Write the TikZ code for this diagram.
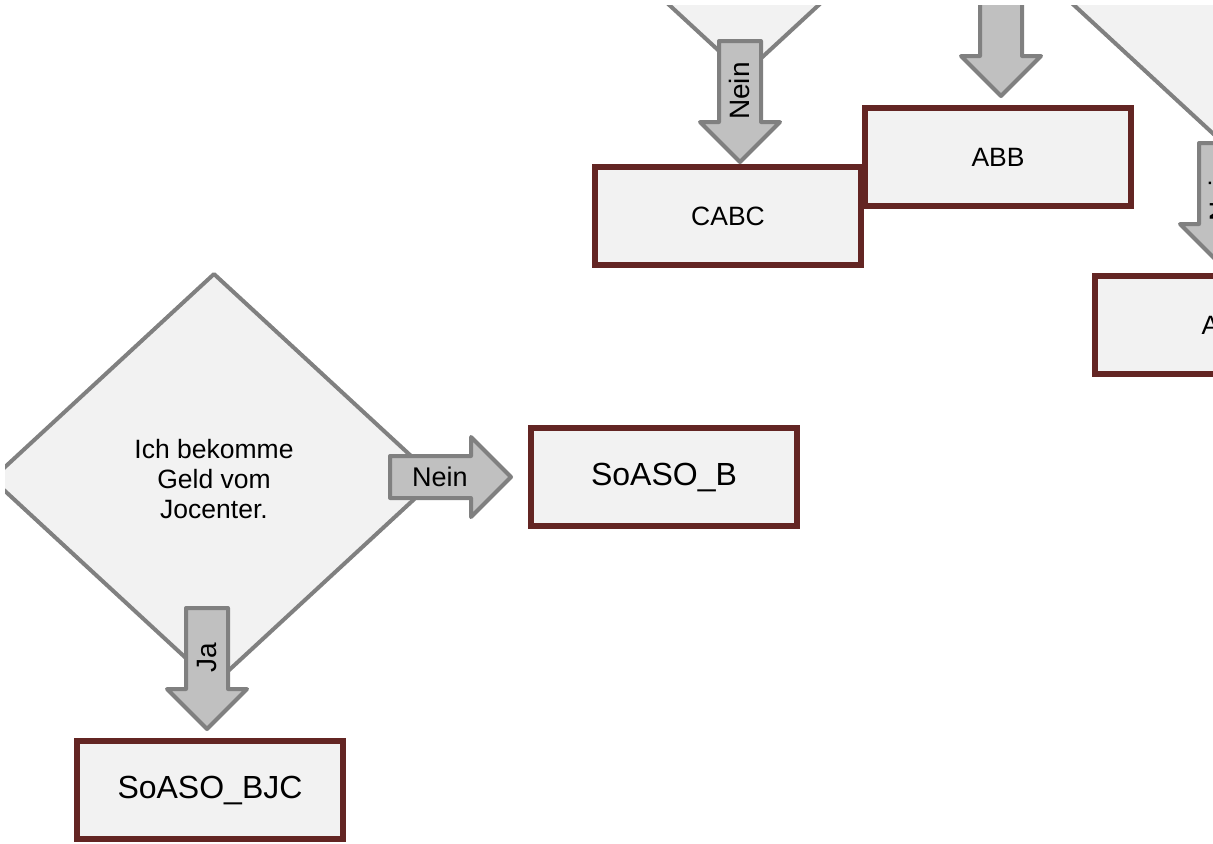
\documentclass[tikz,border=0pt]{standalone}
\usepackage{fontspec}
\setmainfont{Liberation Sans}
\usetikzlibrary{shapes.geometric, shapes.arrows, positioning}
\definecolor{boxfill}{RGB}{242,242,242}
\definecolor{boxborder}{RGB}{99,37,35}
\definecolor{arrowfill}{RGB}{192,192,192}
\definecolor{arrowborder}{RGB}{128,128,128}
\tikzset{
    resultbox/.style={rectangle, draw=boxborder, fill=boxfill, line width=3pt, minimum width=133pt, minimum height=49pt, inner sep=0pt, outer sep=0pt, align=center, font=\fontsize{13.25pt}{16pt}\selectfont},
    decision/.style={diamond, draw=arrowborder, fill=boxfill, line width=2pt, line join=round, minimum width=222pt, minimum height=205pt, inner sep=0pt, outer sep=0pt, align=center, font=\fontsize{13.25pt}{14.8pt}\selectfont},
    blockarrow/.style={single arrow, draw=arrowborder, fill=arrowfill, line width=2pt, line join=round, minimum height=60.5pt, single arrow head extend=9.5pt, inner xsep=2pt, inner ysep=0pt, outer sep=0pt, text height=14.15pt, text depth=4.85pt, font=\fontsize{13.5pt}{15pt}\selectfont},
    downarrow/.style={blockarrow, rotate=90, shape border rotate=180, anchor=tip, font=\fontsize{14pt}{16pt}\selectfont},
}

\begin{document}
\begin{tikzpicture}[x=0.5pt, y=-0.5pt,
    bigtext/.style={font=\fontsize{16pt}{19pt}\selectfont}
]
\useasboundingbox (0,0) rectangle (1213,843);
\clip (5,5) rectangle (1213,843);

% Decisions (top ones only partly in view)
\node[decision] (q-jobcenter) at (214,479) {Ich bekomme\\Geld vom\\Jocenter.};
\node[decision] (q-topleft) at (744,-131) {};
\node[decision] (q-topright) at (1220,-65) {};

% Result boxes
\node[resultbox, bigtext, below=28.5pt of q-jobcenter, xshift=-2pt] (bjc) {SoASO\_BJC};
\node[resultbox, bigtext, right=47.5pt of q-jobcenter, yshift=1pt] (soaso-b) {SoASO\_B};
\node[resultbox] (cabc) at (728,216) {CABC};
\node[resultbox] (abb) at (998,157) {ABB};
\node[resultbox] (abox) at (1228,325) {A\phantom{BB}};

% Block arrows
\node[downarrow] (ja-arrow) at ([xshift=-1.5pt, yshift=6pt]bjc.north) {Ja};
\node[blockarrow, anchor=tip] (nein-arrow) at ([xshift=-10pt]soaso-b.west) {Nein};
\node[downarrow] (cabc-arrow) at ([xshift=6pt, yshift=2.5pt]cabc.north) {Nein};
\node[downarrow] (abb-arrow) at ([xshift=1.5pt, yshift=6pt]abb.north) {};
\node[downarrow] (abox-arrow) at ([xshift=-4pt, yshift=6pt]abox.north) {Nein};

\end{tikzpicture}
\end{document}
